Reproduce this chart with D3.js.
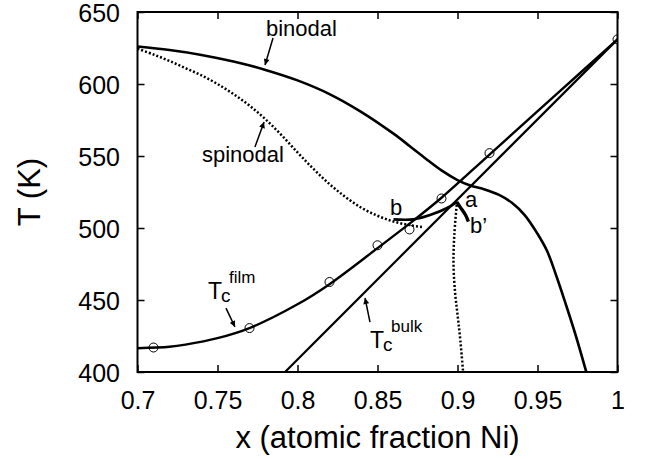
<!DOCTYPE html>
<html>
<head>
<meta charset="utf-8">
<script src="https://cdn.jsdelivr.net/npm/d3@7/dist/d3.min.js"></script>
<style>
  body { margin: 0; background: #fff; }
  text { font-family: "Liberation Sans", Arial, Helvetica, sans-serif; fill: #000; }
</style>
</head>
<body>
<div id="chart"></div>
<script>
// x ticks and y ticks
const xTicks = [0.7, 0.75, 0.8, 0.85, 0.9, 0.95, 1];
const yTicks = [400, 450, 500, 550, 600, 650];

// measured critical temperatures (open circles)
const pointX = [0.71, 0.77, 0.82, 0.85, 0.87, 0.89, 0.92, 1.0];
const pointT = [417, 430.5, 462.5, 488, 499, 520.5, 552, 631];

// fitted Tc of the film
const filmX = [0.70, 0.72, 0.73, 0.75, 0.77, 0.80, 0.82, 0.85, 0.87, 0.89, 0.92, 0.96, 1.0];
const filmT = [416.5, 417.5, 419, 423.5, 430.5, 447, 461, 486, 503, 521, 551, 591, 631];

// bulk Tc (straight)
const bulkX = [0.7922, 1.0];
const bulkT = [400, 631];

// binodal
const binodalX = [0.70, 0.72, 0.74, 0.76, 0.78, 0.80, 0.82, 0.84, 0.86, 0.87, 0.88, 0.89, 0.90, 0.908,
  0.917, 0.926, 0.934, 0.942, 0.950, 0.956, 0.962, 0.968, 0.974, 0.981];
const binodalT = [626, 623.6, 620.2, 615.6, 609.8, 602.5, 593, 580.5, 565.5, 557, 548.3, 540, 533.3, 529.5,
  526.8, 523, 517.5, 509, 496, 484, 466, 446, 425, 398];

// spinodal (dotted)
const spinodalX = [0.70, 0.71, 0.72, 0.73, 0.74, 0.75, 0.76, 0.77, 0.78, 0.79, 0.80, 0.81, 0.82,
  0.83, 0.84, 0.85, 0.86, 0.87, 0.879];
const spinodalT = [624.5, 620.5, 616, 611, 606, 600, 593, 585, 575.5, 564.5, 552.5, 541, 530.5,
  521.5, 514, 508.5, 504.5, 502, 500.5];

// b - a branch (solid)
const baX = [0.86, 0.8724, 0.8828, 0.8932, 0.8995];
const baT = [506, 506, 509, 513.7, 518];

// a - b' branch (solid, thick)
const abX = [0.8995, 0.902, 0.905, 0.9068];
const abT = [518, 514, 509, 504.5];

// dotted drop from a
const dropX = [0.8995, 0.898, 0.8975, 0.8985, 0.9, 0.9015, 0.9035];
const dropT = [516, 495, 475, 455, 440, 425, 400];

const zip = (xs, ts) => xs.map((x, i) => ({ x: x, t: ts[i] }));

const W = 650, H = 459;
const x = d3.scaleLinear().domain([0.7, 1]).range([137.5, 617.5]);
const y = d3.scaleLinear().domain([400, 650]).range([372, 12]);

const svg = d3.select("#chart").append("svg")
  .attr("width", W).attr("height", H);

const defs = svg.append("defs");
defs.append("clipPath").attr("id", "plot")
  .append("rect")
  .attr("x", x(0.7)).attr("y", y(650))
  .attr("width", x(1) - x(0.7)).attr("height", y(400) - y(650));

defs.append("marker")
  .attr("id", "head")
  .attr("viewBox", "0 0 10 10")
  .attr("refX", 10).attr("refY", 5)
  .attr("markerWidth", 8).attr("markerHeight", 6)
  .attr("markerUnits", "userSpaceOnUse")
  .attr("orient", "auto")
  .append("path").attr("d", "M0,0 L10,5 L0,10 z").attr("fill", "#000");

// axes: ticks inward on all four sides
const axes = [
  { a: d3.axisBottom(x).tickValues(xTicks).tickSize(-7).tickPadding(19).tickFormat(d3.format("")), t: `translate(0,${y(400)})` },
  { a: d3.axisTop(x).tickValues(xTicks).tickSize(-7).tickFormat(""), t: `translate(0,${y(650)})` },
  { a: d3.axisLeft(y).tickValues(yTicks).tickSize(-7).tickPadding(17.5), t: `translate(${x(0.7)},0)`, left: true },
  { a: d3.axisRight(y).tickValues(yTicks).tickSize(-7).tickFormat(""), t: `translate(${x(1)},0)` }
];
axes.forEach(d => {
  const g = svg.append("g").attr("transform", d.t).call(d.a);
  g.select(".domain").remove();
  g.selectAll(".tick line").attr("stroke", "#000").attr("stroke-width", 1.5);
  g.selectAll(".tick text").style("font-size", "25px")
    .style("font-family", '"Liberation Sans", Arial, sans-serif').attr("fill", "#000");
  if (d.left) g.selectAll(".tick text").attr("dy", "0.38em");
});

// frame
svg.append("rect")
  .attr("x", x(0.7)).attr("y", y(650))
  .attr("width", x(1) - x(0.7)).attr("height", y(400) - y(650))
  .attr("fill", "none").attr("stroke", "#000").attr("stroke-width", 2);

// axis titles
svg.append("text")
  .attr("x", (x(0.7) + x(1)) / 2).attr("y", 448)
  .attr("text-anchor", "middle").style("font-size", "31px")
  .text("x (atomic fraction Ni)");
svg.append("text")
  .attr("transform", `translate(40,${(y(400) + y(650)) / 2}) rotate(-90)`)
  .attr("text-anchor", "middle").style("font-size", "31px")
  .text("T (K)");

const plot = svg.append("g").attr("clip-path", "url(#plot)");
const line = d3.line().x(d => x(d.x)).y(d => y(d.t)).curve(d3.curveCatmullRom.alpha(0.5));

const curves = [
  { d: zip(binodalX, binodalT), w: 2.6 },
  { d: zip(spinodalX, spinodalT), w: 2.5, dash: "2,2" },
  { d: zip(filmX, filmT), w: 2.4 },
  { d: zip(bulkX, bulkT), w: 2.2 },
  { d: zip(baX, baT), w: 2.6 },
  { d: zip(abX, abT), w: 3.4 },
  { d: zip(dropX, dropT), w: 2.5, dash: "2,2" }
];
curves.forEach(c => {
  plot.append("path").datum(c.d)
    .attr("fill", "none").attr("stroke", "#000")
    .attr("stroke-width", c.w)
    .attr("stroke-dasharray", c.dash || null)
    .attr("d", line);
});

// measured points
plot.selectAll("circle.pt").data(zip(pointX, pointT)).enter()
  .append("circle").attr("class", "pt")
  .attr("cx", d => x(d.x)).attr("cy", d => y(d.t)).attr("r", 4.5)
  .attr("fill", "none").attr("stroke", "#000").attr("stroke-width", 1);

// annotation arrows (data coordinates: tail -> tip)
const arrows = [
  [0.7847, 631.9, 0.7797, 613.2],
  [0.7734, 556.3, 0.7791, 573.6],
  [0.7553, 444.4, 0.7609, 431.3],
  [0.8453, 434.7, 0.8422, 451.4]
];
arrows.forEach(a => {
  svg.append("line")
    .attr("x1", x(a[0])).attr("y1", y(a[1]))
    .attr("x2", x(a[2])).attr("y2", y(a[3]))
    .attr("stroke", "#000").attr("stroke-width", 1.5)
    .attr("marker-end", "url(#head)");
});

// labels
const labels = [
  ["binodal", 0.7803, 633.3],
  ["spinodal", 0.7403, 545.8],
  ["b", 0.8578, 509],
  ["a", 0.9047, 514.6],
  ["b\u2019", 0.9078, 496.5]
];
labels.forEach(l => {
  svg.append("text").attr("x", x(l[1])).attr("y", y(l[2]))
    .style("font-size", "22px").text(l[0]);
});

// T_c^film and T_c^bulk
const tcLabels = [["film", 0.7441, 450.7], ["bulk", 0.8453, 416.7]];
tcLabels.forEach(l => {
  const px = x(l[1]), py = y(l[2]);
  svg.append("text").attr("x", px).attr("y", py).style("font-size", "23px").text("T");
  svg.append("text").attr("x", px + 13).attr("y", py + 3).style("font-size", "19px").text("c");
  svg.append("text").attr("x", px + 21).attr("y", py - 16).style("font-size", "17px").text(l[0]);
});
</script>
</body>
</html>
